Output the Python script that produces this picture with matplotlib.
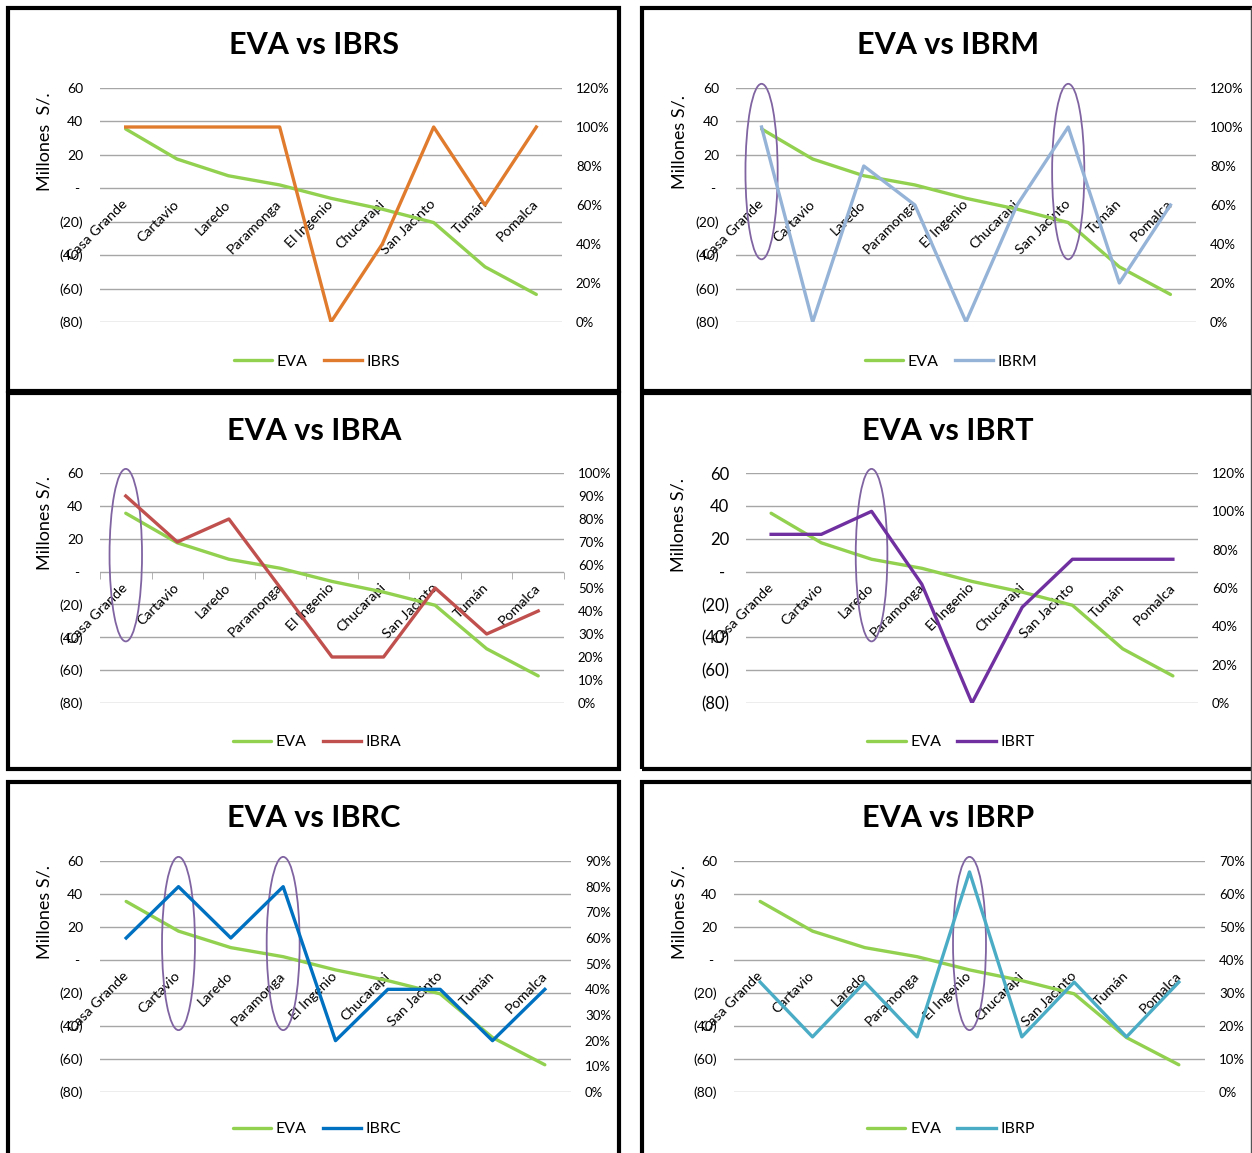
import matplotlib
matplotlib.use('Agg')
import matplotlib.pyplot as plt
from matplotlib.patches import Ellipse, Rectangle
from matplotlib.lines import Line2D

plt.rcParams['font.family'] = ['Lato', 'DejaVu Sans']

categories = ['Casa Grande', 'Cartavio', 'Laredo', 'Paramonga', 'El Ingenio',
              'Chucarapi', 'San Jacinto', 'Tumán', 'Pomalca']
eva = [35.5, 17.5, 7.5, 2, -6, -12.5, -20.5, -47, -63.5]

# indicadores (%), eje secundario
ibrs = [100, 100, 100, 100, 0, 40, 100, 60, 100]
ibrm = [100, 0, 80, 60, 0, 60, 100, 20, 60]
ibra = [90, 70, 80, 50, 20, 20, 50, 30, 40]
ibrt = [88, 88, 100, 62, 0, 50, 75, 75, 75]
ibrc = [60, 80, 60, 80, 20, 40, 40, 20, 40]
ibrp = [33.3, 16.7, 33.3, 16.7, 66.7, 16.7, 33.3, 16.7, 33.3]

names = ['IBRS', 'IBRM', 'IBRA', 'IBRT', 'IBRC', 'IBRP']
values = [ibrs, ibrm, ibra, ibrt, ibrc, ibrp]
right_max = [120, 120, 100, 120, 90, 70]
right_step = [20, 20, 10, 20, 10, 10]
# categorias resaltadas con elipse
highlights = [[], [0, 6], [0], [2], [1, 3], [4]]

left_ticks = [60, 40, 20, 0, -20, -40, -60, -80]
left_labels = ['60', '40', '20', '- ', '(20)', '(40)', '(60)', '(80)']
ylabels = ['Millones  S/.', 'Millones S/.', 'Millones S/.', 'Millones S/.',
           'Millones S/.', 'Millones S/.']

colors = ['#E07B2E', '#95B3D7', '#C0504D', '#7030A0', '#0070C0', '#4BACC6']
green = '#92D050'
grid = '#A6A6A6'
ring = '#8064A2'

W, H = 1252, 1153
fig = plt.figure(figsize=(W / 100, H / 100), dpi=100)


def fx(x):
    return x / W


def fy(y):
    return 1 - y / H


# layout en pixeles: caja, area de trazado, centro, titulo, leyenda, etiqueta y
layout = [
    dict(box=(8, 8, 619, 391), plot=(100, 562, 88, 322), cx=314, ty=45, ly=362, yl=(45, 142)),
    dict(box=(642, 8, 1256, 391), plot=(736, 1196, 88, 322), cx=948, ty=45, ly=362, yl=(680, 142)),
    dict(box=(8, 393, 619, 769), plot=(100, 564, 473, 703), cx=314, ty=431, ly=742, yl=(45, 523)),
    dict(box=(642, 393, 1256, 769), plot=(746, 1198, 473, 703), cx=948, ty=431, ly=742, yl=(678, 525)),
    dict(box=(8, 782, 619, 1170), plot=(100, 571, 861, 1092), cx=314, ty=818, ly=1129, yl=(45, 912)),
    dict(box=(642, 782, 1256, 1170), plot=(734, 1205, 861, 1092), cx=948, ty=818, ly=1129, yl=(680, 912)),
]

x = list(range(len(categories)))

for k in range(6):
    L = layout[k]
    bx0, by0, bx1, by1 = L['box']
    fig.add_artist(Rectangle((fx(bx0), fy(by1)), (bx1 - bx0) / W, (by1 - by0) / H,
                             transform=fig.transFigure, fill=False,
                             edgecolor='black', lw=3))

    px0, px1, pyt, pyb = L['plot']
    ax = fig.add_axes([fx(px0), fy(pyb), (px1 - px0) / W, (pyb - pyt) / H])
    ax.set_xlim(-0.5, 8.5)
    ax.set_ylim(-80, 60)
    for v in left_ticks:
        ax.axhline(v, color=grid, lw=1, zorder=0)
    for s in ax.spines.values():
        s.set_visible(False)
    ax.spines['bottom'].set_position(('data', 0))
    ax.set_yticks(left_ticks)
    ax.set_yticklabels(left_labels)
    big = 12 if k == 3 else 10
    ax.tick_params(axis='y', length=0, pad=12, labelsize=big)
    ax.set_xticks(x)
    ax.set_xticklabels(categories, rotation=45, ha='right', va='center',
                       rotation_mode='anchor', fontsize=10.3)
    ax.tick_params(axis='x', length=0, pad=10)
    if k == 2:
        ax.set_xticks([i - 0.5 for i in range(10)], minor=True)
        ax.tick_params(axis='x', which='minor', length=5, color=grid, direction='out')

    l1, = ax.plot(x, eva, color=green, lw=2.4, solid_capstyle='round', label='EVA')

    ax2 = ax.twinx()
    ax2.set_ylim(0, right_max[k])
    rt = list(range(0, right_max[k] + 1, right_step[k]))
    ax2.set_yticks(rt)
    ax2.set_yticklabels([f'{v}%' for v in rt])
    ax2.tick_params(axis='y', length=0, pad=10, labelsize=9.5)
    for s in ax2.spines.values():
        s.set_visible(False)
    l2, = ax2.plot(x, values[k], color=colors[k], lw=2.4, label=names[k])

    for m in highlights[k]:
        ax2.add_patch(Ellipse((m, 10), 0.63, 105, transform=ax.transData,
                              fill=False, edgecolor=ring, lw=1.3, clip_on=False))

    fig.text(fx(L['cx']), fy(L['ty']), 'EVA vs ' + names[k], ha='center', va='center',
             fontsize=22, fontweight='bold')
    fig.text(fx(L['yl'][0]), fy(L['yl'][1]), ylabels[k], rotation=90,
             ha='center', va='center', fontsize=13)
    fig.legend(handles=[l1, l2], loc='center', bbox_to_anchor=(fx(L['cx'] + 3), fy(L['ly'])),
               ncol=2, frameon=False, fontsize=11.5, handlelength=2.4,
               handletextpad=0.3, columnspacing=1.0)

# borde derecho fino
fig.add_artist(Line2D([fx(1251), fx(1251)], [0, fy(8)], transform=fig.transFigure,
                      color='#555555', lw=1))

fig.savefig('out.png', dpi=100)
